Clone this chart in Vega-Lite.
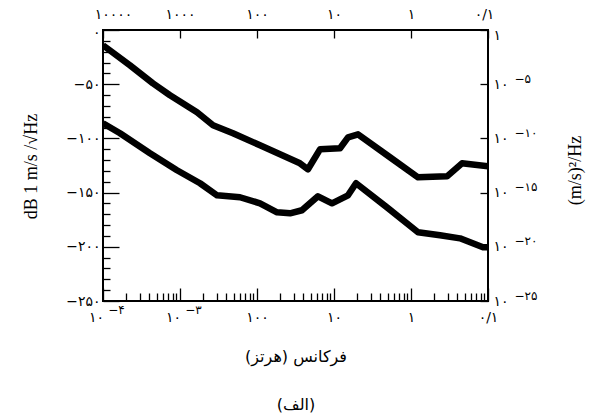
{
  "$schema": "https://vega.github.io/schema/vega-lite/v6.json",
  "autosize": {"type": "none"},
  "padding": {"left": 103, "top": 30, "right": 107, "bottom": 119},
  "width": 385,
  "height": 271,
  "background": "white",
  "config": {
    "view": {"stroke": "#000", "strokeWidth": 2},
    "axis": {"domain": false, "grid": false, "tickColor": "#000", "tickWidth": 1.3, "labelColor": "#000", "labelFont": "DejaVu Sans", "labelFontSize": 14, "titleColor": "#000", "titleFontWeight": "normal", "labelOverlap": false, "labelBound": false, "labelFlush": false}
  },
  "data": {"values": [
    {"curve": "high", "f": 0.0001, "db": -14.1},
    {"curve": "high", "f": 0.0002244, "db": -32.6},
    {"curve": "high", "f": 0.0004457, "db": -49.2},
    {"curve": "high", "f": 0.0007413, "db": -60.2},
    {"curve": "high", "f": 0.001663, "db": -75.9},
    {"curve": "high", "f": 0.002685, "db": -87.9},
    {"curve": "high", "f": 0.004875, "db": -95.3},
    {"curve": "high", "f": 0.01094, "db": -106.4},
    {"curve": "high", "f": 0.03614, "db": -123.0},
    {"curve": "high", "f": 0.04592, "db": -128.5},
    {"curve": "high", "f": 0.06577, "db": -110.1},
    {"curve": "high", "f": 0.1197, "db": -109.1},
    {"curve": "high", "f": 0.1521, "db": -99.0},
    {"curve": "high", "f": 0.2051, "db": -96.2},
    {"curve": "high", "f": 0.5333, "db": -117.4},
    {"curve": "high", "f": 1.233, "db": -135.9},
    {"curve": "high", "f": 2.938, "db": -135.0},
    {"curve": "high", "f": 4.592, "db": -123.0},
    {"curve": "high", "f": 10, "db": -125.7},
    {"curve": "low", "f": 0.0001, "db": -86.1},
    {"curve": "low", "f": 0.0001663, "db": -95.3},
    {"curve": "low", "f": 0.0004074, "db": -113.7},
    {"curve": "low", "f": 0.0009141, "db": -129.4},
    {"curve": "low", "f": 0.00182, "db": -141.4},
    {"curve": "low", "f": 0.003027, "db": -152.5},
    {"curve": "low", "f": 0.006012, "db": -154.3},
    {"curve": "low", "f": 0.01094, "db": -159.9},
    {"curve": "low", "f": 0.0182, "db": -168.2},
    {"curve": "low", "f": 0.02685, "db": -169.1},
    {"curve": "low", "f": 0.03837, "db": -166.3},
    {"curve": "low", "f": 0.06194, "db": -153.4},
    {"curve": "low", "f": 0.09419, "db": -159.9},
    {"curve": "low", "f": 0.1521, "db": -152.5},
    {"curve": "low", "f": 0.1932, "db": -141.4},
    {"curve": "low", "f": 0.4875, "db": -163.6},
    {"curve": "low", "f": 1.233, "db": -186.6},
    {"curve": "low", "f": 2.382, "db": -189.4},
    {"curve": "low", "f": 4.325, "db": -192.2},
    {"curve": "low", "f": 8.61, "db": -200.5},
    {"curve": "low", "f": 10, "db": -200.5}
  ]},
  "resolve": {"axis": {"x": "independent", "y": "independent"}},
  "layer": [
    {
      "mark": {"type": "line", "color": "#000", "strokeWidth": 6.5, "clip": true, "strokeJoin": "round"},
      "encoding": {
        "detail": {"field": "curve"},
        "x": {"field": "f", "type": "quantitative", "scale": {"type": "log", "domain": [0.0001, 10], "nice": false},
          "axis": {"orient": "bottom", "values": [0.0001, 0.001, 0.01, 0.1, 1, 10], "tickSize": -13, "labelPadding": 22,
            "labelOffset": {"condition": {"test": "datum.value < 0.005", "value": -7}, "value": 0},
            "labelExpr": "datum.value < 0.0005 ? '۱۰' : datum.value < 0.005 ? '۱۰' : datum.value < 0.05 ? '۱۰۰' : datum.value < 0.5 ? '۱۰' : datum.value < 5 ? '۱' : '۰/۱'",
            "title": ["فرکانس (هرتز)", "(الف)"], "titleFont": "DejaVu Sans", "titleFontSize": 16, "titleLineHeight": 48, "titleBaseline": "top", "titleY": 47}},
        "y": {"field": "db", "type": "quantitative", "scale": {"domain": [-250, 0], "nice": false, "zero": false},
          "axis": {"orient": "left", "values": [-250, -200, -150, -100, -50, 0], "tickSize": -16, "labelPadding": 19,
            "labelOffset": {"condition": {"test": "datum.value == 0", "value": 2}, "value": 0},
            "labelExpr": "datum.value == 0 ? '۰' : datum.value == -50 ? '−۵۰' : datum.value == -100 ? '−۱۰۰' : datum.value == -150 ? '−۱۵۰' : datum.value == -200 ? '−۲۰۰' : '−۲۵۰'",
            "title": "dB 1 m/s /√Hz", "titleFont": "Liberation Serif", "titleFontSize": 18, "titleX": -72, "titleY": 136, "titleAngle": 270, "titleBaseline": "middle", "titleAlign": "center"}}
      }
    },
    {
      "mark": {"type": "line", "opacity": 0},
      "encoding": {
        "detail": {"field": "curve"},
        "x": {"field": "f", "type": "quantitative", "scale": {"type": "log", "domain": [0.0001, 10], "nice": false},
          "axis": {"orient": "top", "values": [0.0001, 0.001, 0.01, 0.1, 1, 10], "tickSize": -8, "labelPadding": 17,
            "labelOffset": {"condition": [{"test": "datum.value < 0.0005", "value": 10}, {"test": "datum.value > 5", "value": -4}], "value": 0},
            "labelExpr": "datum.value < 0.0005 ? '۱۰۰۰۰' : datum.value < 0.005 ? '۱۰۰۰' : datum.value < 0.05 ? '۱۰۰' : datum.value < 0.5 ? '۱۰' : datum.value < 5 ? '۱' : '۰/۱'", "title": null}},
        "y": {"field": "db", "type": "quantitative", "scale": {"domain": [-250, 0], "nice": false, "zero": false},
          "axis": {"orient": "right", "values": [-250, -200, -150, -100, -50, 0], "tickSize": -8, "labelPadding": 13,
            "labelOffset": {"condition": {"test": "datum.value == 0", "value": 5}, "value": 0},
            "labelExpr": "datum.value == 0 ? '۱' : '۱۰'",
            "title": "(m/s)²/Hz", "titleFont": "Liberation Serif", "titleFontSize": 18, "titleX": 87, "titleY": 140, "titleAngle": 270, "titleBaseline": "middle", "titleAlign": "center"}}
      }
    },
    {
      "mark": {"type": "line", "opacity": 0},
      "encoding": {
        "detail": {"field": "curve"},
        "x": {"field": "f", "type": "quantitative", "scale": {"type": "log", "domain": [0.0001, 10], "nice": false},
          "axis": {"orient": "bottom", "values": [0.0002, 0.0003, 0.0004, 0.0005, 0.0006, 0.0007, 0.0008, 0.0009, 0.002, 0.003, 0.004, 0.005, 0.006, 0.007, 0.008, 0.009, 0.02, 0.03, 0.04, 0.05, 0.06, 0.07, 0.08, 0.09, 0.2, 0.3, 0.4, 0.5, 0.6, 0.7, 0.8, 0.9, 2, 3, 4, 5, 6, 7, 8, 9], "tickSize": -8, "labels": false, "title": null}},
        "y": {"field": "db", "type": "quantitative", "scale": {"domain": [-250, 0], "nice": false, "zero": false},
          "axis": {"orient": "left", "values": [-240, -230, -220, -210, -190, -180, -170, -160, -140, -130, -120, -110, -90, -80, -70, -60, -40, -30, -20, -10], "tickSize": -7, "labels": false, "title": null}}
      }
    },
    {
      "mark": {"type": "line", "opacity": 0},
      "encoding": {
        "detail": {"field": "curve"},
        "x": {"field": "f", "type": "quantitative", "scale": {"type": "log", "domain": [0.0001, 10], "nice": false},
          "axis": {"orient": "bottom", "values": [0.0001, 0.001], "ticks": false, "labelPadding": 3, "labelOffset": 13, "labelFontSize": 12,
            "labelExpr": "datum.value < 0.0005 ? '−۴' : '−۳'", "title": null}},
        "y": {"field": "db", "type": "quantitative", "scale": {"domain": [-250, 0], "nice": false, "zero": false},
          "axis": {"orient": "right", "values": [-250, -200, -150, -100, -50], "ticks": false, "labelPadding": 26, "labelOffset": -6, "labelFontSize": 12,
            "labelExpr": "datum.value == -50 ? '−۵' : datum.value == -100 ? '−۱۰' : datum.value == -150 ? '−۱۵' : datum.value == -200 ? '−۲۰' : '−۲۵'", "title": null}}
      }
    }
  ]
}
